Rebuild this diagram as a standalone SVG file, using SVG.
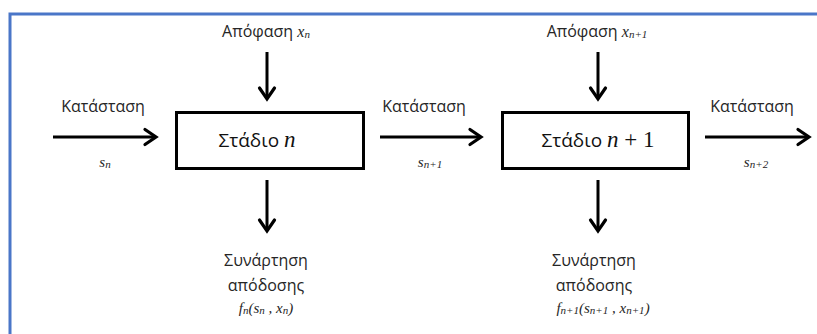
<svg xmlns="http://www.w3.org/2000/svg" width="817" height="334" viewBox="0 0 817 334">
  <style>
    .frame { fill: none; stroke: #4a76c8; stroke-width: 3; }
    .box { fill: #ffffff; stroke: #000000; stroke-width: 3; }
    .arrow { fill: none; stroke: #000000; stroke-width: 3; marker-end: url(#head); }
    .lbl { font-family: "Open Sans", "Noto Sans", sans-serif; font-size: 16px; fill: #262626; text-anchor: middle; }
    .stage { font-family: "Open Sans", "Noto Sans", sans-serif; font-size: 19px; fill: #111111; text-anchor: middle; }
    .m { font-family: "Liberation Serif", "DejaVu Serif", serif; font-style: italic; }
    .mu { font-family: "Liberation Serif", "DejaVu Serif", serif; font-style: normal; }
    .var { font-family: "Liberation Serif", "DejaVu Serif", serif; font-style: italic; font-size: 15px; fill: #262626; text-anchor: middle; }
  </style>
  <defs>
    <marker id="head" markerUnits="userSpaceOnUse" markerWidth="24" markerHeight="24" viewBox="-18 -12 24 24" refX="0" refY="0" orient="auto">
      <path d="M-11,-7.5 L0,0 L-11,7.5" fill="none" stroke="#000000" stroke-width="3.2" stroke-linecap="round" stroke-linejoin="miter"/>
    </marker>
  </defs>

  <rect width="817" height="334" fill="#ffffff"/>
  <!-- outer frame (open towards the right and bottom edges) -->
  <path class="frame" d="M10,340 L10,14 L830,14"/>

  <!-- connectors -->
  <g id="connectors">
    <line class="arrow" x1="53" y1="137" x2="156" y2="137"/>
    <line class="arrow" x1="380" y1="137" x2="481" y2="137"/>
    <line class="arrow" x1="705" y1="137" x2="809" y2="137"/>
    <line class="arrow" x1="267" y1="52" x2="267" y2="99"/>
    <line class="arrow" x1="598" y1="52" x2="598" y2="99"/>
    <line class="arrow" x1="267" y1="180" x2="267" y2="231"/>
    <line class="arrow" x1="598" y1="180" x2="598" y2="231"/>
  </g>

  <!-- stage n -->
  <g id="stage-n">
    <rect class="box" x="176.5" y="112.5" width="187" height="56"/>
    <text class="stage" x="257" y="147">Στάδιο <tspan class="m" font-size="23">n</tspan></text>
  </g>

  <!-- stage n+1 -->
  <g id="stage-n1">
    <rect class="box" x="502.5" y="112.5" width="186" height="56"/>
    <text class="stage" x="598" y="147">Στάδιο <tspan class="m" font-size="23">n</tspan><tspan class="mu" font-size="23"> + 1</tspan></text>
  </g>

  <!-- state labels -->
  <g id="state-n">
    <text class="lbl" x="103" y="112">Κατάσταση</text>
    <text class="var" x="105" y="167">s<tspan font-size="11" dy="1">n</tspan></text>
  </g>
  <g id="state-n1">
    <text class="lbl" x="424" y="112">Κατάσταση</text>
    <text class="var" x="430" y="167">s<tspan font-size="11" dy="1">n+1</tspan></text>
  </g>
  <g id="state-n2">
    <text class="lbl" x="752" y="112">Κατάσταση</text>
    <text class="var" x="756" y="167">s<tspan font-size="11" dy="1">n+2</tspan></text>
  </g>

  <!-- decisions -->
  <g id="decision-n">
    <text class="lbl" x="266" y="37">Απόφαση <tspan class="m" font-size="16">x</tspan><tspan class="m" font-size="11" dy="1">n</tspan></text>
  </g>
  <g id="decision-n1">
    <text class="lbl" x="597" y="37">Απόφαση <tspan class="m" font-size="16">x</tspan><tspan class="m" font-size="11" dy="1">n+1</tspan></text>
  </g>

  <!-- return functions -->
  <g id="return-n">
    <text class="lbl" x="266" y="266">Συνάρτηση</text>
    <text class="lbl" x="266" y="291">απόδοσης</text>
    <text class="var" x="266" y="313">f<tspan font-size="11" dy="1">n</tspan><tspan dy="-1">(s</tspan><tspan font-size="11" dy="1">n</tspan><tspan dy="-1"> , x</tspan><tspan font-size="11" dy="1">n</tspan><tspan dy="-1">)</tspan></text>
  </g>
  <g id="return-n1">
    <text class="lbl" x="594" y="266">Συνάρτηση</text>
    <text class="lbl" x="594" y="291">απόδοσης</text>
    <text class="var" x="603" y="313">f<tspan font-size="11" dy="1">n+1</tspan><tspan dy="-1">(s</tspan><tspan font-size="11" dy="1">n+1</tspan><tspan dy="-1"> , x</tspan><tspan font-size="11" dy="1">n+1</tspan><tspan dy="-1">)</tspan></text>
  </g>
</svg>
